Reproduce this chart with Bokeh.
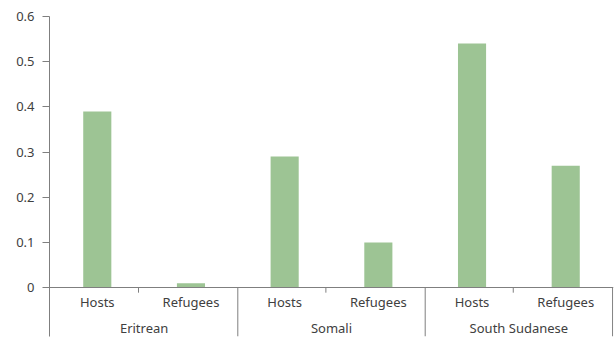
from bokeh.plotting import figure
from bokeh.models import FactorRange, Range1d, FixedTicker, CustomJSTickFormatter
from bokeh.embed import file_html
from bokeh.resources import INLINE

# ---- data ----
groups = ["Eritrean", "Somali", "South Sudanese"]
subgroups = ["Hosts", "Refugees"]
hosts = [0.39, 0.29, 0.54]
refugees = [0.01, 0.10, 0.27]
y_ticks = [0, 0.1, 0.2, 0.3, 0.4, 0.5, 0.6]

FONT = "Noto Sans"
TEXT = "#404040"
LINE = "#7f7f7f"
BAR = "#9DC494"

factors = [(g, s) for g in groups for s in subgroups]
tops = []
for h, r in zip(hosts, refugees):
    tops += [h, r]

Y_MIN, Y_MAX = -0.108, 0.6
FRAME_W, FRAME_H = 564, 320

p = figure(
    x_range=FactorRange(*factors, factor_padding=0, group_padding=0,
                        range_padding=0.01, range_padding_units="absolute"),
    y_range=Range1d(Y_MIN, Y_MAX),
    frame_width=FRAME_W, frame_height=FRAME_H,
    min_border_left=49, min_border_top=16, min_border_right=2, min_border_bottom=4,
    output_backend="svg", toolbar_location=None,
)
p.outline_line_color = None
p.xgrid.visible = False
p.ygrid.visible = False

p.vbar(x=factors, top=tops, width=0.3, fill_color=BAR, line_color=None)

# category separators spanning the label area
sep_x = [(groups[i], subgroups[0], -0.5) for i in range(1, len(groups))]
sep_x.append((groups[-1], subgroups[-1], 0.5))
p.segment(x0=sep_x, y0=[0] * len(sep_x), x1=sep_x, y1=[Y_MIN] * len(sep_x),
          line_color=LINE, line_width=1)

# short ticks between sub-categories
tick_len = 5 * (Y_MAX - Y_MIN) / FRAME_H
mid_x = [(g, subgroups[1], -0.56) for g in groups]
p.segment(x0=mid_x, y0=[0] * len(mid_x), x1=mid_x, y1=[-tick_len] * len(mid_x),
          line_color=LINE, line_width=1)

xa = p.xaxis[0]
xa.fixed_location = 0
xa.axis_line_color = LINE
xa.major_tick_line_color = None
xa.major_tick_in = 0
xa.major_tick_out = 0
xa.minor_tick_line_color = None
xa.separator_line_color = None
xa.major_label_standoff = 5
xa.major_label_text_font = FONT
xa.major_label_text_font_size = "13px"
xa.major_label_text_color = TEXT
xa.group_text_font = FONT
xa.group_text_font_size = "13px"
xa.group_text_font_style = "normal"
xa.group_text_color = TEXT

ya = p.yaxis[0]
ya.ticker = FixedTicker(ticks=y_ticks)
ya.formatter = CustomJSTickFormatter(code="return tick == 0 ? '0' : tick.toFixed(1);")
ya.axis_line_color = LINE
ya.major_tick_line_color = LINE
ya.major_tick_in = 0
ya.major_tick_out = 7
ya.minor_tick_line_color = None
ya.major_label_standoff = 8
ya.major_label_text_font = FONT
ya.major_label_text_font_size = "13px"
ya.major_label_text_color = TEXT

open("out.html", "w").write(file_html(p, INLINE))
